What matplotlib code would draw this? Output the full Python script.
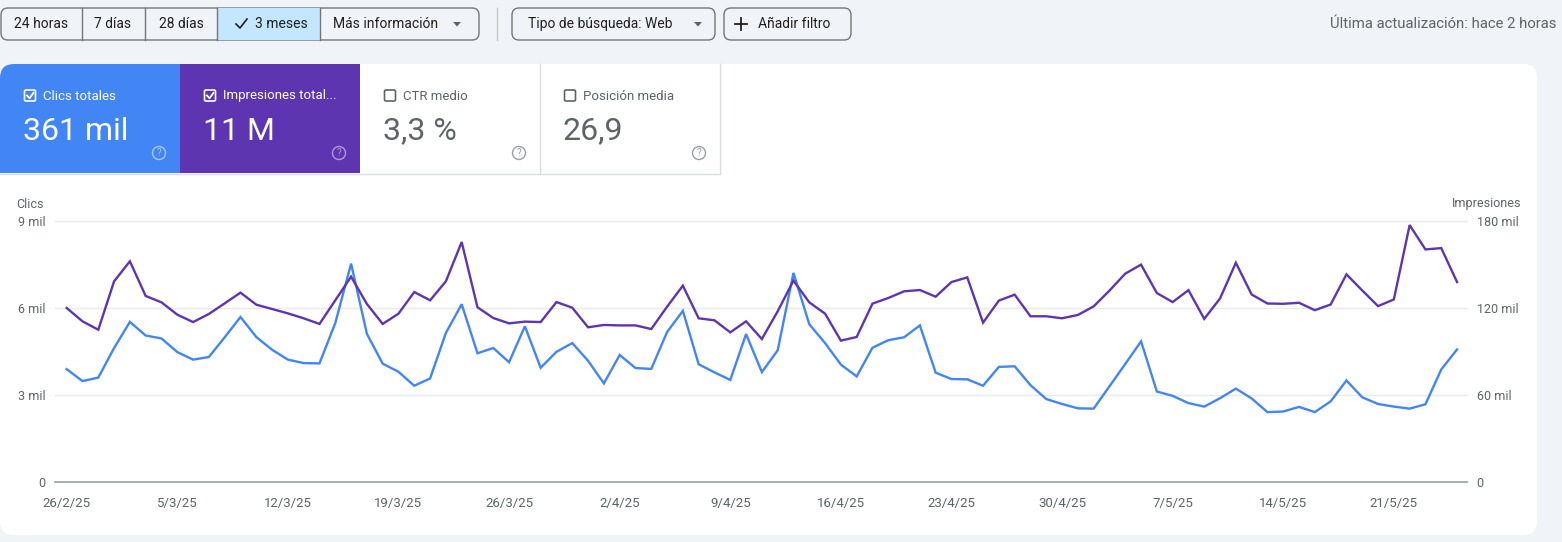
import matplotlib
matplotlib.use("Agg")
import matplotlib.pyplot as plt
from matplotlib.patches import FancyBboxPatch, Rectangle, Circle, Polygon
import pandas as pd

W, H = 1562, 542
plt.rcParams['font.family'] = ['Roboto', 'DejaVu Sans']

# daily data, 26/2/25 .. 25/5/25
dates = pd.date_range("2025-02-26", "2025-05-25", freq="D")
clicks_mil = [3.89, 3.48, 3.60, 4.62, 5.52, 5.05, 4.95, 4.48, 4.22, 4.31,
              4.99, 5.69, 5.00, 4.56, 4.22, 4.10, 4.09, 5.48, 7.53, 5.11,
              4.08, 3.80, 3.32, 3.57, 5.14, 6.13, 4.44, 4.62, 4.13, 5.37,
              3.94, 4.49, 4.79, 4.18, 3.40, 4.38, 3.93, 3.90, 5.17, 5.90,
              4.06, 3.78, 3.52, 5.10, 3.79, 4.54, 7.21, 5.44, 4.79, 4.05,
              3.64, 4.63, 4.89, 4.99, 5.40, 3.77, 3.55, 3.54, 3.32, 3.97,
              3.99, 3.34, 2.86, 2.69, 2.54, 2.53, 3.30, 4.07, 4.85, 3.12,
              2.97, 2.72, 2.60, 2.89, 3.22, 2.88, 2.41, 2.43, 2.59, 2.41,
              2.78, 3.50, 2.92, 2.69, 2.60, 2.53, 2.68, 3.88, 4.57]
impressions_mil = [120.0, 110.8, 105.0, 138.4, 152.2, 128.3, 123.9, 115.4, 110.3, 115.9,
                   123.2, 130.6, 122.3, 119.3, 116.3, 112.9, 109.0, 125.3, 141.6, 122.8,
                   109.0, 116.1, 131.0, 125.3, 138.4, 165.5, 120.5, 113.1, 109.4, 110.6,
                   110.3, 124.1, 120.2, 106.7, 108.3, 108.0, 108.0, 105.5, 120.9, 135.4,
                   112.9, 111.5, 103.2, 110.8, 98.6, 117.7, 138.9, 123.9, 116.1, 97.5,
                   100.0, 123.0, 126.9, 131.5, 132.4, 127.8, 137.9, 141.1, 109.9, 125.1,
                   129.2, 114.3, 114.3, 112.9, 115.2, 121.1, 132.0, 143.7, 149.9, 130.3,
                   124.1, 132.3, 112.5, 126.6, 151.2, 129.3, 123.1, 122.9, 123.6, 118.5,
                   122.4, 143.2, 132.1, 121.3, 125.9, 177.2, 160.4, 161.3, 137.9]

date_labels = ["26/2/25", "5/3/25", "12/3/25", "19/3/25", "26/3/25", "2/4/25", "9/4/25",
               "16/4/25", "23/4/25", "30/4/25", "7/5/25", "14/5/25", "21/5/25"]
left_ticks = [0, 3, 6, 9]
left_labels = ["0", "3 mil", "6 mil", "9 mil"]
right_ticks = [0, 60, 120, 180]
right_labels = ["0", "60 mil", "120 mil", "180 mil"]

range_buttons = ["24 horas", "7 días", "28 días", "3 meses", "Más información"]
card_titles = ["Clics totales", "Impresiones total...", "CTR medio", "Posición media"]
card_values = ["361 mil", "11 M", "3,3 %", "26,9"]

BG = "#f0f4f9"
BLUE = "#4285f4"
PURPLE = "#5e35b1"
GRAY = "#5f6368"
DARK = "#1f1f1f"
LINE = "#dadce0"

fig = plt.figure(figsize=(W / 100, H / 100), dpi=100)
fig.patch.set_facecolor(BG)
bg = fig.add_axes([0, 0, 1, 1])
bg.set_xlim(0, W)
bg.set_ylim(H, 0)
bg.axis("off")

# ---- top bar
seg = FancyBboxPatch((1, 8), 478, 32, boxstyle="round,pad=0,rounding_size=7",
                     fc=BG, ec="#747775", lw=1)
bg.add_patch(seg)
sel = Rectangle((217, 8), 103, 32, fc="#c2e7ff", ec="none")
sel.set_clip_path(seg)
bg.add_patch(sel)
for x in [82, 145, 217, 320]:
    bg.plot([x, x], [8, 40], color="#747775", lw=1)
seg_centers = [41, 113, 181, 281, 386]
for lab, cx in zip(range_buttons, seg_centers):
    bg.text(cx, 24, lab, ha="center", va="center", fontsize=10, color=DARK)
bg.plot([236, 240, 247], [24, 28, 19], color=DARK, lw=1.2)
bg.add_patch(Polygon([(453, 22), (461, 22), (457, 26.5)], fc=GRAY, ec="none"))
bg.plot([497, 497], [8, 40], color="#c4c7c5", lw=1)

bg.add_patch(FancyBboxPatch((512, 8), 203, 32, boxstyle="round,pad=0,rounding_size=7",
                            fc=BG, ec="#747775", lw=1))
bg.text(528, 24, "Tipo de búsqueda: Web", ha="left", va="center", fontsize=10, color=DARK)
bg.add_patch(Polygon([(694, 22), (702, 22), (698, 26.5)], fc=GRAY, ec="none"))

bg.add_patch(FancyBboxPatch((724, 8), 127, 32, boxstyle="round,pad=0,rounding_size=7",
                            fc=BG, ec="#747775", lw=1))
bg.plot([735, 747], [24, 24], color=DARK, lw=1.3)
bg.plot([741, 741], [18, 30], color=DARK, lw=1.3)
bg.text(758, 24, "Añadir filtro", ha="left", va="center", fontsize=10, color=DARK)

bg.text(1556, 24, "Última actualización: hace 2 horas", ha="right", va="center",
        fontsize=10.7, color=GRAY)

# ---- white panel and metric cards
panel = FancyBboxPatch((0, 64), 1537, 471, boxstyle="round,pad=0,rounding_size=14",
                       fc="white", ec="none")
bg.add_patch(panel)
card_fill = [BLUE, PURPLE, None, None]
help_col = ["#a9c8fb", "#ae9ad8", "#9aa0a6", "#9aa0a6"]
for i, (title, value) in enumerate(zip(card_titles, card_values)):
    x0 = 180 * i
    active = card_fill[i] is not None
    if active:
        r = Rectangle((x0, 64), 180, 109, fc=card_fill[i], ec="none")
        r.set_clip_path(panel)
        bg.add_patch(r)
    fg = "white" if active else GRAY
    bg.add_patch(FancyBboxPatch((x0 + 24.5, 90), 11, 11, boxstyle="round,pad=0,rounding_size=1.5",
                                fc="none", ec=fg, lw=1.2))
    if active:
        bg.plot([x0 + 27, x0 + 29.5, x0 + 33.5], [95.5, 98.3, 92.8], color=fg, lw=1.3)
    bg.text(x0 + 43, 96, title, ha="left", va="center", fontsize=9.5, color=fg)
    bg.text(x0 + 23, 131, value, ha="left", va="center", fontsize=23, color=fg)
    bg.add_patch(Circle((x0 + 159, 153), 6.5, fc="none", ec=help_col[i], lw=1))
    bg.text(x0 + 159, 153.5, "?", ha="center", va="center", fontsize=7, color=help_col[i])

bg.plot([539.5, 539.5], [64, 173], color=LINE, lw=1)
bg.plot([719.5, 719.5], [64, 173], color=LINE, lw=1)
bg.plot([0, 720], [173.5, 173.5], color=LINE, lw=1)

bg.text(16, 204, "Clics", ha="left", va="center", fontsize=9, color=GRAY)
bg.text(1521, 204, "Impresiones", ha="right", va="center", fontsize=9, color=GRAY)

# ---- chart
ax = fig.add_axes([55 / W, 1 - 482 / H, (1467 - 55) / W, (482 - 221) / H])
ax.patch.set_alpha(0)
ax2 = ax.twinx()

ax.plot(dates, clicks_mil, color=BLUE, lw=1.7, solid_joinstyle="miter")
ax2.plot(dates, impressions_mil, color=PURPLE, lw=1.7, solid_joinstyle="miter")

ax.set_xlim(dates[0] - pd.Timedelta(days=0.74), dates[-1] + pd.Timedelta(days=0.63))
ax.set_ylim(0, 9)
ax2.set_ylim(0, 180)

ax.set_yticks(left_ticks, left_labels)
ax2.set_yticks(right_ticks, right_labels)
ax.set_xticks(dates[::7], date_labels)

ax.grid(axis="y", color="#e8eaed", lw=1)
for gl in ax.get_ygridlines():
    gl.set_clip_on(False)
ax.axhline(0, color="#9aa0a6", lw=1.2, clip_on=False)

for a in (ax, ax2):
    for s in a.spines.values():
        s.set_visible(False)
ax.tick_params(axis="y", length=0, pad=7, labelsize=9, labelcolor=GRAY)
ax2.tick_params(axis="y", length=0, pad=7, labelsize=9, labelcolor=GRAY)
ax.tick_params(axis="x", length=0, pad=11, labelsize=9.5, labelcolor=GRAY)

fig.savefig("out.png", dpi=100, facecolor=BG)
